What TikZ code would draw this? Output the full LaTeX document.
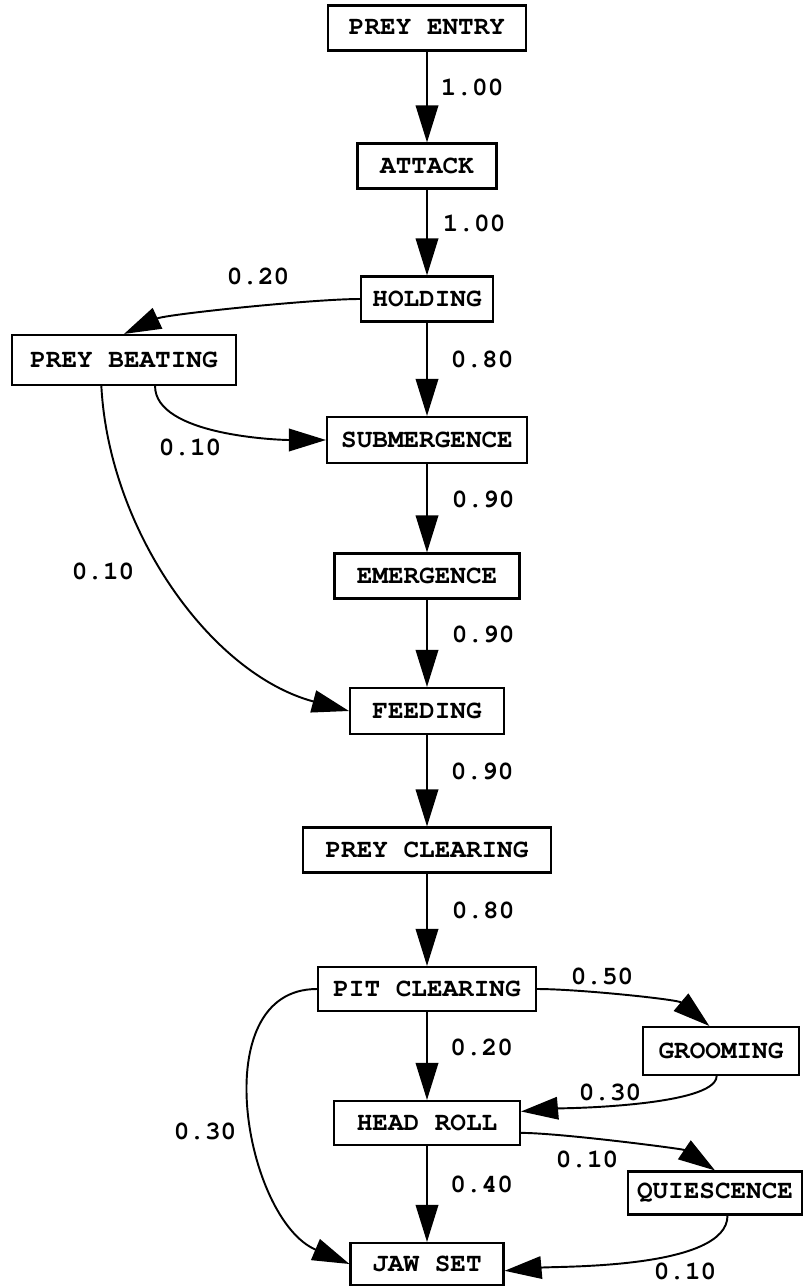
\documentclass[tikz,border=0pt]{standalone}
\usepackage[T1]{fontenc}
\usepackage{courier}
\usepackage{tikz}
\usetikzlibrary{arrows.meta, positioning}
\tikzset{
  state_box/.style={rectangle, draw=black, line width=1.2pt, minimum height=0.9cm, inner sep=2pt, font=\ttfamily\bfseries\fontsize{14.8}{16}\selectfont},
  prob_label/.style={font=\ttfamily\bfseries\fontsize{14.8}{16}\selectfont, inner sep=0pt},
  flow_arrow/.style={-{Triangle[length=0.74cm, width=0.45cm]}, line width=1.1pt, black}
}

\begin{document}
\begin{tikzpicture}[x=0.02cm, y=0.02cm]
\useasboundingbox (0,0) rectangle (804,-1287);

    % 1. Main column of states
    \node[state_box, minimum width=3.96cm] (entry) at (427,-28) {PREY ENTRY};
    \node[state_box, minimum width=2.78cm] (attack) at (427,-166) {ATTACK};
    \node[state_box, minimum width=2.64cm] (holding) at (427,-299) {HOLDING};
    \node[state_box, minimum width=4.0cm, minimum height=0.92cm] (submergence) at (427,-440) {SUBMERGENCE};
    \node[state_box, minimum width=3.7cm] (emergence) at (427,-576) {EMERGENCE};
    \node[state_box, minimum width=3.08cm, minimum height=0.92cm] (feeding) at (427,-711) {FEEDING};
    \node[state_box, minimum width=4.96cm] (preyclearing) at (427,-850) {PREY CLEARING};
    \node[state_box, minimum width=4.36cm, minimum height=0.88cm] (pitclearing) at (427,-989) {PIT CLEARING};
    \node[state_box, minimum width=3.72cm, minimum height=0.88cm] (headroll) at (427,-1123) {HEAD ROLL};
    \node[state_box, minimum width=3.06cm, minimum height=0.84cm] (jawset) at (427,-1264) {JAW SET};

    % 2. Side states
    \node[state_box, minimum width=4.48cm, minimum height=1.0cm] (beating) at (124,-360) {PREY BEATING};
    \node[state_box, minimum width=3.12cm, minimum height=0.96cm] (grooming) at (721,-1051) {GROOMING};
    \node[state_box, minimum width=3.48cm, minimum height=0.86cm] (quiescence) at (715,-1193) {QUIESCENCE};

    % 3. Straight transitions down the column
    \foreach \a/\b/\p/\d in {entry/attack/1.00/0.26, attack/holding/1.00/0.3,
        holding/submergence/0.80/0.46, submergence/emergence/0.90/0.48,
        emergence/feeding/0.90/0.48, feeding/preyclearing/0.90/0.46,
        preyclearing/pitclearing/0.80/0.48, pitclearing/headroll/0.20/0.45,
        headroll/jawset/0.40/0.45}
      \draw[flow_arrow] (\a) -- (\b) node[prob_label, pos=0.4, anchor=west, xshift=\d cm] (p_\a) {\p};

    % 4. Curved transitions
    \draw[flow_arrow] (holding.west) to[out=180, in=25, looseness=0.5] (beating.north);
    \draw[flow_arrow] (beating.-40) to[out=-90, in=180, looseness=0.7] (submergence.west);
    \draw[flow_arrow] (beating.-131) to[out=-87, in=165, looseness=0.9] (feeding.west);
    \draw[flow_arrow] (pitclearing.east) to[out=0, in=140, looseness=0.6] (grooming.115);
    \draw[flow_arrow] (grooming.-100) to[out=-90, in=5, looseness=0.4] (headroll.7);
    \draw[flow_arrow] (headroll.-6) to[out=0, in=146, looseness=0.5] (quiescence.north);
    \draw[flow_arrow] (quiescence.-61) to[out=-90, in=5, looseness=0.6] (jawset.-5);
    \draw[flow_arrow] (pitclearing.west) to[out=180, in=157, looseness=1.05] (jawset.west);

    % 5. Probabilities on the curved transitions
    \node[prob_label] (p_hold_beat) at (258,-277) {0.20};
    \node[prob_label] (p_beat_sub) at (190,-448) {0.10};
    \node[prob_label] (p_beat_feed) at (103,-572) {0.10};
    \node[prob_label] (p_pit_groom) at (602,-977) {0.50};
    \node[prob_label] (p_groom_head) at (610,-1093) {0.30};
    \node[prob_label] (p_head_quies) at (587,-1160) {0.10};
    \node[prob_label] (p_quies_jaw) at (685,-1272) {0.10};
    \node[prob_label] (p_pit_jaw) at (205,-1132) {0.30};

\end{tikzpicture}
\end{document}
